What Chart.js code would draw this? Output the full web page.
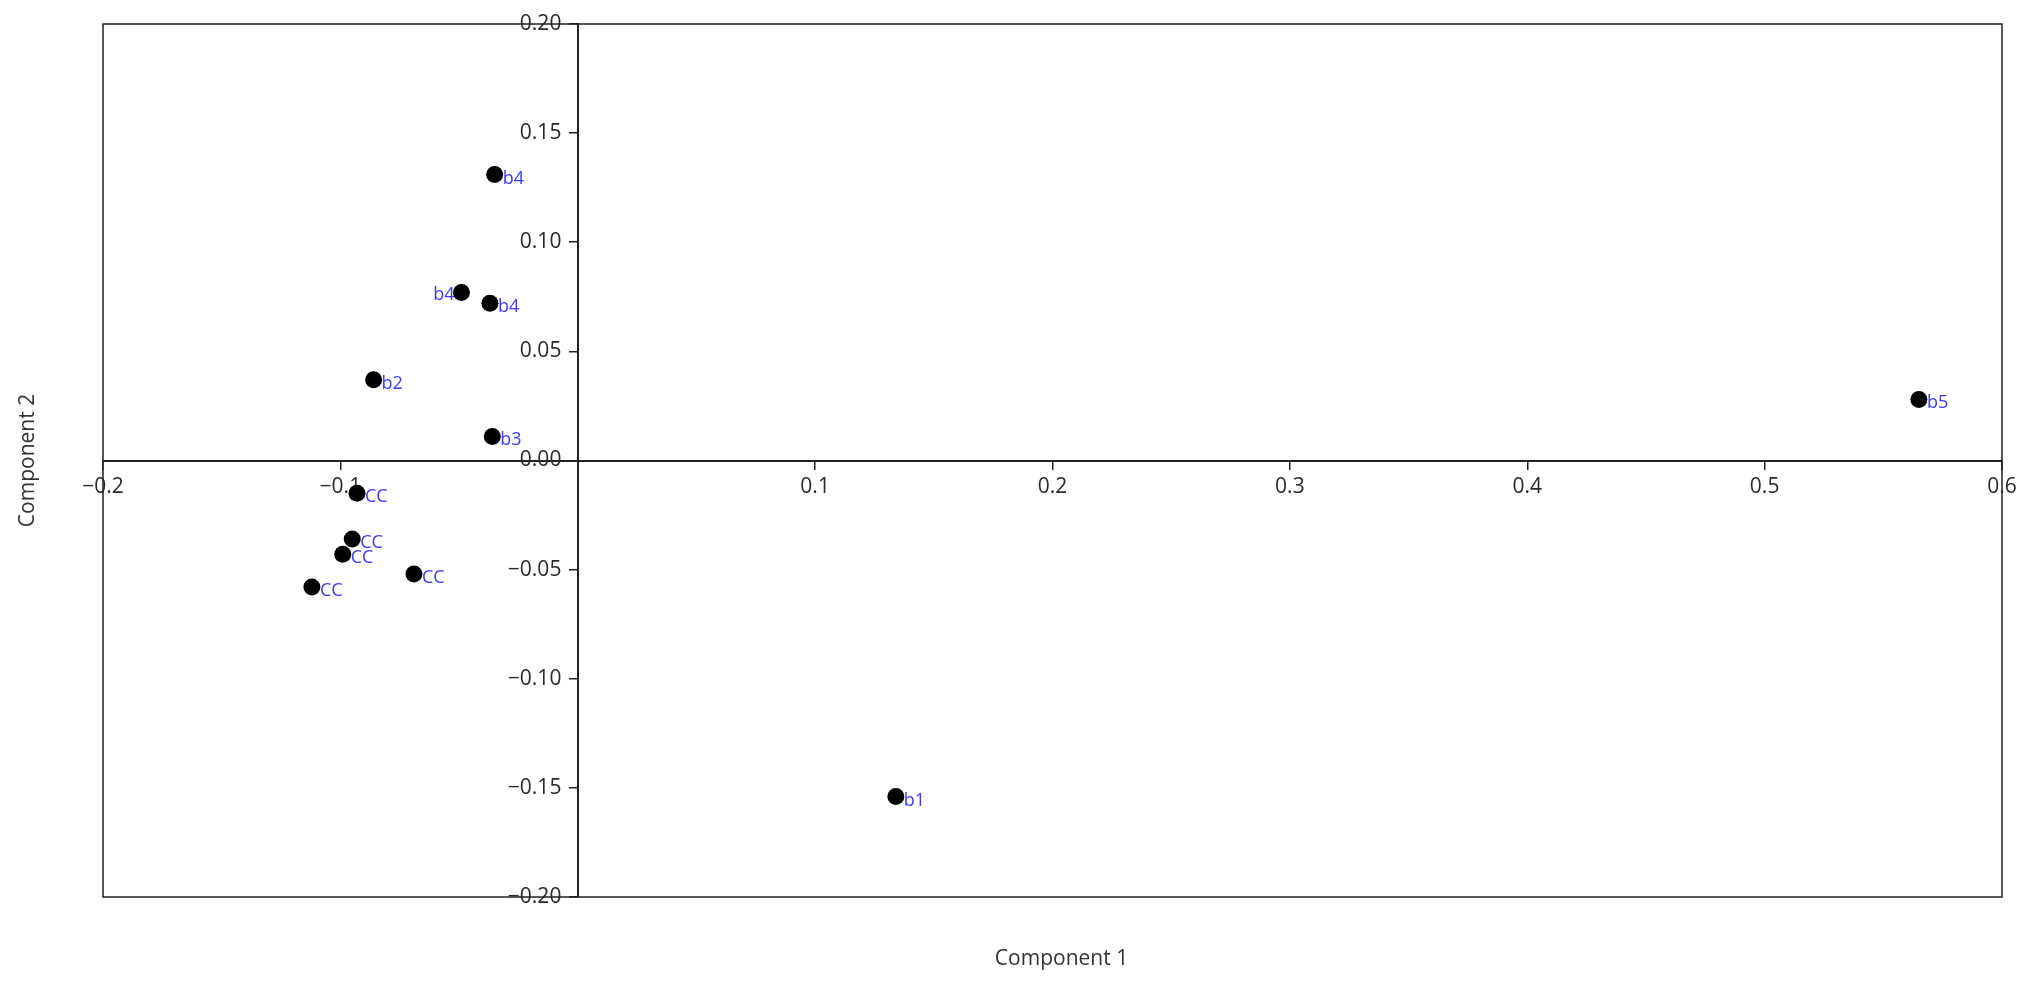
<!DOCTYPE html>
<html>
<head>
<meta charset="utf-8">
<script src="https://cdn.jsdelivr.net/npm/chart.js@4/dist/chart.umd.min.js"></script>
<style>
  html, body { margin: 0; padding: 0; background: #fff; }
  canvas { display: block; }
</style>
</head>
<body>
<canvas id="myChart" width="2037" height="987"></canvas>
<script>
// values
const pointNames = ['b4', 'b4', 'b4', 'b2', 'b3', 'CC', 'CC', 'CC', 'CC', 'CC', 'b1', 'b5'];
const comp1 = [-0.035, -0.049, -0.037, -0.086, -0.036, -0.093, -0.095, -0.099, -0.069, -0.112, 0.134, 0.565];
const comp2 = [0.131, 0.077, 0.072, 0.037, 0.011, -0.015, -0.036, -0.043, -0.052, -0.058, -0.154, 0.028];

const xTicks = [-0.2, -0.1, 0, 0.1, 0.2, 0.3, 0.4, 0.5, 0.6];
const yTicks = [-0.20, -0.15, -0.10, -0.05, 0.00, 0.05, 0.10, 0.15, 0.20];

const MINUS = '\u2212';
const FONT = '"Open Sans", "DejaVu Sans", sans-serif';

function fmt(v, digits) {
  const s = Math.abs(v).toFixed(digits);
  return (v < -1e-9 ? MINUS : '') + s;
}

const points = comp1.map(function (x, i) { return { x: x, y: comp2[i] }; });

// labels that sit to the left of their point (the middle b4)
const leftLabels = [1];

const pointLabels = {
  id: 'pointLabels',
  afterDatasetsDraw(chart) {
    const ctx = chart.ctx;
    const meta = chart.getDatasetMeta(0);
    ctx.save();
    ctx.font = '18px ' + FONT;
    ctx.fillStyle = '#3b3bff';
    ctx.textBaseline = 'alphabetic';
    meta.data.forEach(function (el, i) {
      if (leftLabels.indexOf(i) >= 0) {
        ctx.textAlign = 'right';
        ctx.fillText(pointNames[i], el.x - 7, el.y + 8);
      } else {
        ctx.textAlign = 'left';
        ctx.fillText(pointNames[i], el.x + 8, el.y + 9);
      }
    });
    ctx.restore();
  }
};

const frameAndTitles = {
  id: 'frameAndTitles',
  beforeDatasetsDraw(chart) {
    const a = chart.chartArea;
    const ctx = chart.ctx;
    ctx.save();
    ctx.strokeStyle = '#222';
    ctx.lineWidth = 1.5;
    ctx.strokeRect(a.left, a.top, a.right - a.left, a.bottom - a.top);
    ctx.restore();
  },
  afterDraw(chart) {
    const a = chart.chartArea;
    const ctx = chart.ctx;
    ctx.save();
    ctx.font = '21px ' + FONT;
    ctx.fillStyle = '#333';
    ctx.textAlign = 'center';
    ctx.textBaseline = 'middle';
    ctx.fillText('Component 1', (a.left + a.right) / 2 + 9, a.bottom + 62);
    ctx.translate(28, (a.top + a.bottom) / 2);
    ctx.rotate(-Math.PI / 2);
    ctx.fillText('Component 2', 0, 0);
    ctx.restore();
  }
};

const config = {
  type: 'scatter',
  data: {
    datasets: [{
      label: 'scores',
      data: points,
      pointRadius: 8.5,
      pointHoverRadius: 8.5,
      pointBackgroundColor: '#000',
      pointBorderColor: '#000',
      pointBorderWidth: 0
    }]
  },
  options: {
    responsive: false,
    animation: false,
    layout: { padding: { left: 103, top: 24, right: 35, bottom: 90 } },
    plugins: {
      legend: { display: false },
      tooltip: { enabled: false },
      title: { display: false }
    },
    scales: {
      x: {
        type: 'linear',
        position: { y: 0 },
        min: -0.2,
        max: 0.6,
        afterBuildTicks: function (axis) { axis.ticks = xTicks.map(function (v) { return { value: v }; }); },
        grid: { display: true, drawOnChartArea: false, drawTicks: true, tickLength: 8, color: '#222', lineWidth: 1.5 },
        border: { display: true, color: '#222', width: 2 },
        ticks: {
          color: '#2a2a2a',
          font: { family: FONT, size: 21 },
          padding: 6,
          maxRotation: 0,
          autoSkip: false,
          callback: function (v) { return Math.abs(v) < 1e-9 ? '' : fmt(v, 1); }
        }
      },
      y: {
        type: 'linear',
        position: { x: 0 },
        min: -0.2,
        max: 0.2,
        afterBuildTicks: function (axis) { axis.ticks = yTicks.map(function (v) { return { value: v }; }); },
        grid: { display: true, drawOnChartArea: false, drawTicks: true, tickLength: 8, color: '#222', lineWidth: 1.5 },
        border: { display: true, color: '#222', width: 2 },
        ticks: {
          color: '#2a2a2a',
          font: { family: FONT, size: 21 },
          autoSkip: false,
          // positioned y axis puts labels right on the axis line, pad with spaces
          callback: function (v) { return fmt(v, 2) + '   '; }
        }
      }
    }
  },
  plugins: [frameAndTitles, pointLabels]
};

const myChart = new Chart(document.getElementById('myChart'), config);
</script>
</body>
</html>
